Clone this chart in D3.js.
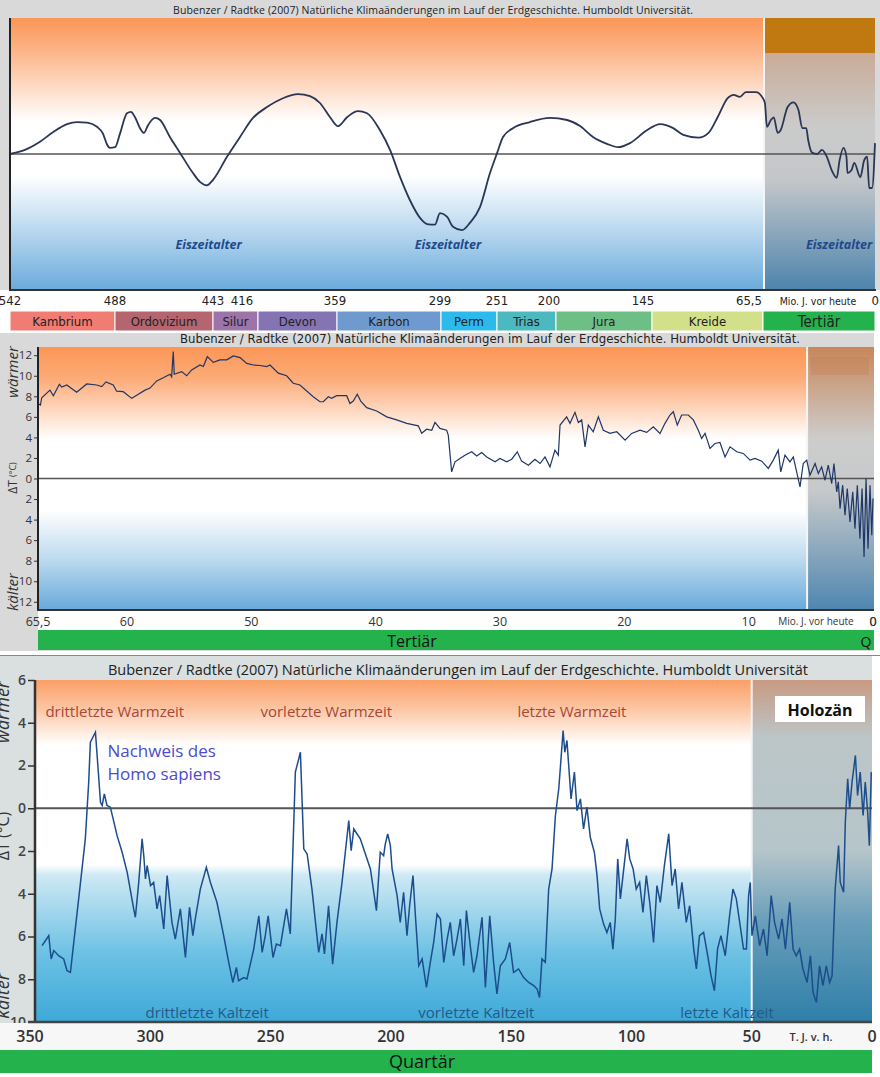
<!DOCTYPE html>
<html><head><meta charset="utf-8">
<script src="https://cdn.jsdelivr.net/npm/d3@7"></script>
<style>body{margin:0;background:#fff}svg{display:block}</style>
</head><body><svg id="c" width="880" height="1077"></svg>
<script>
// ---------------- DATA ----------------
const titleText = "Bubenzer / Radtke (2007) Natürliche Klimaänderungen im Lauf der Erdgeschichte. Humboldt Universität";
const eraNames = ["Kambrium","Ordovizium","Silur","Devon","Karbon","Perm","Trias","Jura","Kreide","Tertiär"];
const eraColors = ["#f07c74","#b4656f","#9d74aa","#8474b4","#6f9ad0","#2cb9ec","#4cb8c0","#6ebf86","#d2e08a","#23b24c"];
const eraBounds = [542,488,443,416,359,299,251,200,145,65.5,0];
const eraTickLabels = ["542","488","443","416","359","299","251","200","145","65,5","0"];
const iceAgeMa = [445,293,21];

const phanMa = [542,534.3,526.6,519.9,512.7,507.5,502.4,497.3,494.2,492.1,490.6,488,485.7,482.5,480.7,478.8,476.5,474.7,472.9,469.6,467.3,462.8,458.2,452.2,449,445.8,443,434.6,426.8,419,409.5,398,387.1,378.5,371.3,364,358.4,353.2,346.9,341.7,334.2,328.4,322.6,316.9,311.1,307.1,302.5,299.6,293.9,288.7,281,274.1,265.6,257,251,245.8,237.2,222.5,205.2,193.7,186.2,178.8,170.8,164.5,157.6,147.9,139.2,129.8,122.6,111.8,104.5,98,90.8,86.5,82.1,77.8,70.6,66.2,64.4,63.2,60.9,59.2,56.9,55.2,51.1,47.7,44.8,42.5,40.2,39.1,36.8,33.9,31,28.2,25.3,22.4,20.7,18.4,16.7,16.1,13.8,12.1,8.6,6.3,4.6,3.4,1.7,0];
const phanT = [0,0.3,0.9,1.6,2.2,2.35,2.3,2.0,1.5,0.7,0.45,0.5,1.5,3.0,3.1,2.7,1.9,1.55,2.1,2.65,2.5,1.25,0.1,-1.4,-2.05,-2.3,-1.9,-0.2,1.25,2.65,3.45,4.1,4.4,4.25,3.75,2.7,2.05,2.7,3.15,3.0,1.75,0.3,-1.7,-3.4,-4.7,-5.15,-5.2,-4.35,-4.6,-5.35,-5.6,-5.05,-3.9,-1.4,0.05,1.25,1.9,2.35,2.65,2.5,2.05,1.25,0.75,0.5,0.8,1.75,2.2,1.9,1.4,1.2,1.55,2.7,4.1,4.35,4.2,4.55,4.55,4.2,3.75,2.0,2.5,2.7,1.55,1.75,3.45,3.8,3.25,1.9,1.9,1.05,0.1,0.0,0.3,-0.2,-1.2,-1.75,-0.45,0.45,-0.2,-1.4,-1.2,-0.65,-1.7,-0.45,-0.2,-2.5,-2.5,0.8];

const tertMa = [65.5,65.35,65.27,64.76,64.55,64.18,64.03,63.72,63.11,62.49,61.87,61.56,61.3,60.85,60.64,60.23,59.62,59.22,58.55,58.15,57.61,57.08,56.54,56.41,56.28,56.2,55.6,55.2,54.8,54.13,53.86,53.54,53.06,52.52,51.98,51.45,50.91,50.37,49.84,49.3,48.76,48.5,47.83,47.16,46.63,46.09,45.02,44.48,44.21,43.81,43.54,43.14,42.33,42.07,41.8,41.48,41.2,40.72,39.92,39.11,38.31,37.5,36.57,36.3,35.9,35.49,35.23,34.83,34.29,34.16,33.89,33.62,33.22,32.82,32.28,31.87,31.47,31.07,30.4,30.0,29.46,29.06,28.61,28.26,27.72,27.19,26.78,26.38,25.98,25.58,25.31,25.17,24.64,24.37,23.97,23.7,23.43,23.16,22.9,22.5,22.09,21.69,21.15,20.61,19.94,19.41,18.74,18.2,17.67,17.13,16.73,16.33,16.06,15.74,15.39,14.86,14.45,14.05,13.78,13.51,13.11,12.71,12.31,11.9,11.5,10.96,10.43,9.89,9.49,8.95,8.42,8.02,7.62,7.42,7.08,6.68,6.41,6.14,5.87,5.61,5.33,5.07,4.66,4.4,4.13,3.86,3.6,3.32,3.14,2.92,2.79,2.65,2.44,2.25,2.07,1.85,1.63,1.45,1.26,1.05,0.88,0.72,0.56,0.4,0.24,0.1,0];
const tertT = [7.3,7.15,7.86,8.6,8.05,9.17,8.9,9.1,8.4,9.2,9.1,8.94,9.4,9.1,8.5,8.45,7.8,8.1,8.6,8.8,9.5,9.8,10.15,9.9,12.35,10.15,10.4,10.0,10.57,11.05,10.9,11.86,11.3,11.55,11.55,11.93,11.77,11.2,11.05,11.0,10.9,11.05,10.25,10.0,9.27,9.1,7.96,7.47,7.47,7.96,7.8,8.06,8.06,7.3,7.54,8.2,7.54,6.9,6.57,6.0,5.7,5.37,5.13,4.4,4.8,4.7,5.46,4.88,4.7,4.22,0.65,1.62,1.95,2.27,2.6,2.2,2.53,2.1,1.62,1.95,1.62,1.88,2.6,1.69,1.3,1.88,1.46,2.1,1.13,2.76,2.27,5.2,6.0,5.37,6.44,5.46,5.7,3.08,5.2,4.55,6.0,4.7,4.39,4.55,3.74,4.39,4.7,4.49,5.03,4.39,5.37,6.18,6.5,5.2,6.18,6.18,5.7,4.7,3.9,4.39,2.93,3.41,3.51,2.1,3.08,2.6,2.44,1.79,1.95,1.69,0.98,1.79,2.76,0.65,2.27,1.62,2.1,0.65,-0.82,1.46,1.79,0.32,1.46,0.49,1.13,-0.17,1.3,-0.49,1.46,-1.3,-0.33,-2.93,-0.65,-3.58,-0.98,-4.23,-1.3,-4.88,-0.65,-5.85,-0.98,-7.65,0,-6.83,-0.65,-5.53,-1.95];
const tertTicks = [65.5,60,50,40,30,20,10,0];
const tertTickLabels = ["65,5","60","50","40","30","20","10","0"];
const tertYTicks = [-12,-10,-8,-6,-4,-2,0,2,4,6,8,10,12];

const quatKa = [345,343.6,342.2,341.2,340.1,338.1,336,334.6,333.2,329,327,325.6,324.9,322.8,321.8,320.7,320,319.1,318,316.6,313.8,311.7,309.6,306.9,306.2,304.8,303.4,302.7,302,301.3,299.9,298.6,297.2,296.1,294.4,293,291,289.6,287.5,285.4,283.7,282.3,281.3,279.2,276.7,275,272.3,269.5,267.4,265.7,264.2,263.3,261.2,259.8,257,254.9,253.5,252.2,251,249,247.6,245.9,243.4,241.8,239.7,237.6,236.2,234.8,232.8,230,228.6,227.6,225.9,224.2,222.4,220.3,217.5,216.5,215.4,212.7,208.5,206,204.4,203,202.3,201.3,200.2,199.5,197.4,196.1,194.7,193.3,192.2,190.8,189.8,188.4,187,185.2,183.6,182.2,180.8,179.4,178,176.6,175.3,173.9,172.5,171.1,169.7,168.6,167,165.6,164.2,162.1,160.7,158.9,157.3,155.9,154.5,152.4,150.6,149,146.9,144.8,142.7,140.6,139.2,138.2,137.2,135.8,134.4,133,131.6,130.2,128.4,127.7,126.8,125.1,123.7,122.6,121.2,119.9,118.5,117.1,115.4,114.3,113.2,111.6,110.2,108.8,107.7,106.7,105.7,104.6,103.5,101.8,100.7,99.3,98,96.6,95.2,93.8,92.4,90.8,89.4,88,86.3,84.5,83.1,81.8,80.4,79,77.2,75.8,74.1,73,71.7,70,68.3,66.9,65.5,64.2,62.8,61,59.2,57.8,56.4,55,53.4,52.2,51.3,50.6,49.9,48.5,46.7,45.1,43.6,41.9,40.5,38.8,37.4,36,34.2,32.8,31.5,30.1,28.7,27,25.6,24.5,23.1,21.8,20.4,19,17.6,16.6,15.3,13.9,13.2,11.8,11.1,10.1,9.3,8.3,6.9,6,4.9,3.7,2.8,1.8,1.1,0.3];
const quatT = [-6.43,-6.2,-5.96,-7.05,-6.66,-6.9,-7.05,-7.6,-7.68,-3.47,-1.43,1.22,3.09,3.56,2.0,0.28,0.13,0.67,0.13,0.05,-1.28,-2.06,-3.0,-4.71,-5.1,-3.47,-1.43,-2.22,-3.31,-2.68,-3.62,-3.47,-4.71,-4.09,-5.65,-3.15,-5.34,-6.12,-4.71,-6.98,-4.64,-5.96,-5.18,-3.78,-2.76,-3.47,-4.4,-5.96,-7.21,-8.15,-7.45,-8.07,-7.92,-7.99,-6.59,-5.03,-6.74,-5.96,-5.03,-6.98,-6.35,-6.43,-4.71,-5.88,1.69,2.62,-1.9,-2.14,-3.78,-6.74,-5.88,-6.82,-4.56,-7.29,-5.34,-3.47,-0.58,-1.98,-0.97,-1.43,-2.84,-4.79,-2.06,-2.22,-1.67,-1.2,-1.75,-2.84,-4.09,-5.34,-3.93,-5.96,-4.56,-3.15,-5.03,-7.37,-7.05,-8.38,-7.21,-6.28,-4.95,-5.18,-7.21,-6.12,-5.34,-6.9,-6.12,-5.18,-7.37,-4.79,-6.43,-7.68,-6.9,-5.1,-8.38,-5.03,-7.21,-8.69,-7.37,-7.05,-6.28,-7.68,-7.52,-7.92,-8.15,-8.3,-8.46,-8.85,-7.05,-7.21,-3.78,-2.84,-0.34,0.91,3.64,2.62,3.17,0.44,1.69,-0.11,0.44,-0.97,0.05,-1.36,-2.06,-3.15,-4.71,-5.41,-5.81,-5.34,-6.59,-5.18,-2.37,-4.24,-3.15,-1.43,-2.37,-2.84,-3.78,-3.47,-4.87,-3.15,-4.4,-6.28,-3.62,-4.4,-2.68,-1.2,-3.62,-2.84,-4.71,-3.47,-5.34,-4.56,-6.59,-7.52,-5.96,-5.81,-6.9,-7.84,-8.54,-6.59,-5.96,-6.9,-5.03,-3.78,-4.24,-5.34,-6.59,-6.59,-4.09,-3.47,-5.96,-5.03,-6.43,-5.65,-6.9,-4.09,-5.34,-6.12,-5.18,-6.59,-4.4,-6.59,-6.9,-6.59,-7.52,-8.15,-6.9,-8.62,-9.09,-7.37,-8.3,-7.37,-8.15,-7.84,-3.78,-1.75,-3.47,-3.93,-0.66,1.38,-0.03,1.22,2.47,0.6,1.69,-0.34,1.22,-0.19,-1.75,1.69];
const quatTicks = [350,300,250,200,150,100,50,0];
const quatYTicks = [-10,-8,-6,-4,-2,0,2,4,6];
const warmLabels = ["drittletzte Warmzeit","vorletzte Warmzeit","letzte Warmzeit"];
const warmKa = [343.6,254.2,147.4];
const coldLabels = ["drittletzte Kaltzeit","vorletzte Kaltzeit","letzte Kaltzeit"];
const coldKa = [302,188.6,79.7];

// ---------------- LAYOUT ----------------
const svg = d3.select("#c");
const defs = svg.append("defs");
const NARROW = "'Liberation Sans Narrow','DejaVu Sans Condensed',sans-serif";
const SANS = "'Open Sans','Noto Sans',sans-serif";
function vgrad(id, stops){
  const g = defs.append("linearGradient").attr("id",id).attr("x1",0).attr("y1",0).attr("x2",0).attr("y2",1);
  stops.forEach(([o,c])=>g.append("stop").attr("offset",o).attr("stop-color",c));
}
vgrad("g1",[[0,"#fb9656"],[0.12,"#fcb487"],[0.38,"#ffffff"],[0.58,"#ffffff"],[0.75,"#c4def2"],[1,"#6aaadb"]]);
vgrad("g1b",[[0,"#c89c80"],[0.4,"#cbcbcb"],[0.6,"#c3c6c9"],[1,"#4d84ad"]]);
vgrad("g2",[[0,"#fb9656"],[0.12,"#fcab78"],[0.35,"#ffffff"],[0.62,"#ffffff"],[0.8,"#c0dcf0"],[1,"#68a9da"]]);
vgrad("g2b",[[0,"#c8875a"],[0.35,"#cdcdcd"],[0.55,"#c6c8ca"],[1,"#4e86b0"]]);
vgrad("g3",[[0,"#fa9f67"],[0.08,"#fcc4a0"],[0.19,"#ffffff"],[0.54,"#ffffff"],[0.57,"#cfe9f4"],[0.8,"#6cc1e4"],[1,"#3ea9d8"]]);
vgrad("g3b",[[0,"#c99a82"],[0.17,"#bcc6c8"],[0.5,"#b5c5ca"],[0.7,"#6b9fbb"],[1,"#2e7fa8"]]);

// ============ PANEL 1 ============
const x1 = d3.scaleLinear().domain(eraBounds).range([10,115,213,258,337,441,497,556,652,763,875]);
const y1 = d3.scaleLinear().domain([-10,10]).range([290,18]);
svg.append("rect").attr("x",0).attr("y",0).attr("width",880).attr("height",290).attr("fill","#d9d9d9");
svg.append("rect").attr("x",x1(542)).attr("y",18).attr("width",x1(65.5)-x1(542)).attr("height",272).attr("fill","url(#g1)");
svg.append("rect").attr("x",x1(65.5)).attr("y",18).attr("width",x1(0)-x1(65.5)).attr("height",272).attr("fill","url(#g1b)");
svg.append("rect").attr("x",x1(65.5)).attr("y",18).attr("width",x1(0)-x1(65.5)).attr("height",35).attr("fill","#c07810");
svg.append("line").attr("x1",x1(65.5)+1).attr("x2",x1(65.5)+1).attr("y1",18).attr("y2",290).attr("stroke","#f4f4f4").attr("stroke-width",2);
svg.append("text").attr("x",433).attr("y",14).attr("text-anchor","middle").attr("font-family",SANS).attr("font-size",10.5).attr("fill","#222").attr("textLength",520).text(titleText+".");
svg.append("line").attr("x1",10).attr("x2",875).attr("y1",y1(0)).attr("y2",y1(0)).attr("stroke","#555").attr("stroke-width",1.6);
svg.append("path").datum(d3.zip(phanMa,phanT)).attr("fill","none").attr("stroke","#2a3656").attr("stroke-width",1.8)
  .attr("d",d3.line().x(d=>x1(d[0])).y(d=>y1(d[1])).curve(d3.curveMonotoneX));
svg.append("line").attr("x1",10).attr("x2",10).attr("y1",18).attr("y2",291).attr("stroke","#222").attr("stroke-width",2);
svg.append("line").attr("x1",9).attr("x2",876).attr("y1",290).attr("y2",290).attr("stroke","#333").attr("stroke-width",2);
iceAgeMa.forEach(m=>{
  svg.append("text").attr("x",x1(m)).attr("y",249).attr("text-anchor","middle").attr("font-family",SANS)
    .attr("font-style","italic").attr("font-weight","bold").attr("font-size",12.5).attr("fill","#1f4a8a").text("Eiszeitalter");
});
const tickDx = [0,0,0,-16,-2,-1,0,-7,-9,-14,0];
const tickAnchor = ["middle","middle","middle","middle","middle","middle","middle","middle","middle","middle","end"];
eraBounds.forEach((b,i)=>{
  svg.append("text").attr("x",x1(b)+tickDx[i]+(i===10?4:0)).attr("y",305).attr("text-anchor",tickAnchor[i])
    .attr("font-family",NARROW).attr("font-size",13).attr("fill","#222").text(eraTickLabels[i]);
});
svg.append("text").attr("x",818).attr("y",305).attr("text-anchor","middle").attr("font-family",NARROW).attr("font-size",10.5).attr("fill","#222").text("Mio. J. vor heute");
eraNames.forEach((n,i)=>{
  const a = x1(eraBounds[i]), b = x1(eraBounds[i+1]);
  svg.append("rect").attr("x",a).attr("y",311).attr("width",b-a).attr("height",20).attr("fill",eraColors[i]).attr("stroke","#fff").attr("stroke-width",1);
  svg.append("text").attr("x",(a+b)/2).attr("y",i===9?327:326).attr("text-anchor","middle").attr("font-family",NARROW)
    .attr("font-size",i===9?15:13).attr("fill","#222").text(n);
});

// ============ PANEL 2 ============
const x2 = d3.scaleLinear().domain([65.5,60,0]).range([38,127,873]);
const y2 = d3.scaleLinear().domain([-12.8,12.8]).range([610,347]);
svg.append("rect").attr("x",0).attr("y",333).attr("width",874).attr("height",318).attr("fill","#d9d9d9");
svg.append("rect").attr("x",38).attr("y",611).attr("width",836).attr("height",20).attr("fill","#fff");
svg.append("rect").attr("x",38).attr("y",347).attr("width",x2(5.3)-38).attr("height",263).attr("fill","url(#g2)");
svg.append("rect").attr("x",x2(5.3)).attr("y",347).attr("width",874-x2(5.3)).attr("height",263).attr("fill","url(#g2b)");
svg.append("rect").attr("x",x2(5.0)).attr("y",357).attr("width",58).attr("height",18).attr("fill","#c47c4c").attr("opacity",0.3);
svg.append("line").attr("x1",x2(5.3)).attr("x2",x2(5.3)).attr("y1",347).attr("y2",610).attr("stroke","#f4f4f4").attr("stroke-width",2);
svg.append("text").attr("x",490).attr("y",343).attr("text-anchor","middle").attr("font-family",NARROW).attr("font-size",13).attr("fill","#222").attr("textLength",620).text(titleText+".");
svg.append("line").attr("x1",38).attr("x2",874).attr("y1",y2(0)).attr("y2",y2(0)).attr("stroke","#555").attr("stroke-width",1.5);
svg.append("path").datum(d3.zip(tertMa,tertT)).attr("fill","none").attr("stroke","#1f3766").attr("stroke-width",1.2)
  .attr("d",d3.line().x(d=>x2(d[0])).y(d=>y2(d[1])));
const ax2 = svg.append("g").attr("transform","translate(38,0)")
  .call(d3.axisLeft(y2).tickValues(tertYTicks).tickFormat(d=>Math.abs(d)).tickSize(4).tickPadding(2));
ax2.select(".domain").remove();
ax2.selectAll("text").attr("font-family",SANS).attr("font-size",11.5).attr("fill","#333");
ax2.selectAll("line").attr("stroke","#333");
svg.append("line").attr("x1",38).attr("x2",38).attr("y1",347).attr("y2",611).attr("stroke","#222").attr("stroke-width",2);
svg.append("line").attr("x1",37).attr("x2",874).attr("y1",610).attr("y2",610).attr("stroke","#333").attr("stroke-width",2);
tertTicks.forEach((t,i)=>{
  svg.append("text").attr("x",x2(t)).attr("y",626).attr("text-anchor","middle").attr("font-family",SANS)
    .attr("font-size",12.5).attr("fill","#333").text(tertTickLabels[i]);
});
svg.append("rect").attr("x",770).attr("y",613).attr("width",96).attr("height",16).attr("fill","#fff");
svg.append("text").attr("x",816).attr("y",625).attr("text-anchor","middle").attr("font-family",SANS).attr("font-size",10).attr("fill","#333").text("Mio. J. vor heute");
svg.append("text").attr("x",x2(0)).attr("y",626).attr("text-anchor","middle").attr("font-family",SANS).attr("font-size",12.5).attr("fill","#333").text("0");
function vlabel(x,y,txt,size,italic){
  svg.append("text").attr("transform",`translate(${x},${y}) rotate(-90)`).attr("text-anchor","middle").attr("dominant-baseline","central")
    .attr("font-family",SANS).attr("font-style",italic?"italic":"normal").attr("font-size",size).attr("fill","#333").text(txt);
}
vlabel(12,372,"wärmer",15,true);
vlabel(12,592,"kälter",15,true);
svg.append("text").attr("transform","translate(12,478) rotate(-90)").attr("text-anchor","middle").attr("dominant-baseline","central")
  .attr("font-family",SANS).attr("fill","#333").attr("font-size",12)
  .call(t=>{t.append("tspan").text("ΔT "); t.append("tspan").attr("font-size",9).text("(°C)");});
svg.append("rect").attr("x",38).attr("y",630).attr("width",836).attr("height",20).attr("fill","#23b24c");
svg.append("text").attr("x",412).attr("y",647).attr("text-anchor","middle").attr("font-family",SANS).attr("font-size",16).attr("fill","#111").text("Tertiär");
svg.append("text").attr("x",866).attr("y",647).attr("text-anchor","middle").attr("font-family",SANS).attr("font-size",14).attr("fill","#111").text("Q");

// ============ PANEL 3 ============
const x3 = d3.scaleLinear().domain([350,0]).range([30,872]);
const y3 = d3.scaleLinear().domain([-10,6]).range([1022,680]);
svg.append("rect").attr("x",0).attr("y",655).attr("width",872).attr("height",395).attr("fill","#dadfe0");
svg.append("line").attr("x1",0).attr("x2",880).attr("y1",655.5).attr("y2",655.5).attr("stroke","#888").attr("stroke-width",1);
svg.append("rect").attr("x",35).attr("y",680).attr("width",x3(50)-35).attr("height",342).attr("fill","url(#g3)");
svg.append("rect").attr("x",x3(50)).attr("y",680).attr("width",x3(0)-x3(50)).attr("height",342).attr("fill","url(#g3b)");
svg.append("line").attr("x1",x3(50)).attr("x2",x3(50)).attr("y1",680).attr("y2",1022).attr("stroke","#f4f4f4").attr("stroke-width",2);
svg.append("text").attr("x",458).attr("y",675).attr("text-anchor","middle").attr("font-family",SANS).attr("font-size",14.5).attr("fill","#222").attr("textLength",700).text(titleText);
svg.append("line").attr("x1",35).attr("x2",872).attr("y1",y3(0)).attr("y2",y3(0)).attr("stroke","#555").attr("stroke-width",2);
svg.append("rect").attr("x",775).attr("y",696).attr("width",90).attr("height",26).attr("fill","#fff");
svg.append("text").attr("x",820).attr("y",716).attr("text-anchor","middle").attr("font-family",SANS).attr("font-weight","bold").attr("font-size",16).attr("fill","#111").text("Holozän");
warmLabels.forEach((l,i)=>{
  svg.append("text").attr("x",x3(warmKa[i])).attr("y",y3(4.25)).attr("font-family",SANS).attr("font-size",15).attr("fill","#a9473a").text(l);
});
coldLabels.forEach((l,i)=>{
  svg.append("text").attr("x",x3(coldKa[i])).attr("y",y3(-9.79)).attr("font-family",SANS).attr("font-size",15).attr("fill","#245a88").text(l);
});
svg.append("text").attr("x",x3(317.8)).attr("y",y3(2.39)).attr("font-family",SANS).attr("font-size",17).attr("fill","#4b4bcc").text("Nachweis des");
svg.append("text").attr("x",x3(317.8)).attr("y",y3(1.34)).attr("font-family",SANS).attr("font-size",17).attr("fill","#4b4bcc").text("Homo sapiens");
svg.append("path").datum(d3.zip(quatKa,quatT)).attr("fill","none").attr("stroke","#1d4d8c").attr("stroke-width",1.5)
  .attr("d",d3.line().x(d=>x3(d[0])).y(d=>y3(d[1])));
const ax3 = svg.append("g").attr("transform","translate(35,0)")
  .call(d3.axisLeft(y3).tickValues(quatYTicks).tickFormat(d=>Math.abs(d)).tickSize(7).tickPadding(2));
ax3.select(".domain").remove();
ax3.selectAll("text").attr("font-family",SANS).attr("font-size",14).attr("font-weight",600).attr("fill","#444");
ax3.selectAll("line").attr("stroke","#333").attr("stroke-width",1.5);
function vlabel3(x,y,txt,size,italic){
  svg.append("text").attr("transform",`translate(${x},${y}) rotate(-90)`).attr("text-anchor","middle").attr("dominant-baseline","central")
    .attr("font-family",SANS).attr("font-style",italic?"italic":"normal").attr("font-size",size).attr("fill","#333").text(txt);
}
vlabel3(2,712,"wärmer",18,true);
vlabel3(2,996,"kälter",18,true);
svg.append("text").attr("transform","translate(3,836) rotate(-90)").attr("text-anchor","middle").attr("dominant-baseline","central")
  .attr("font-family",SANS).attr("fill","#333").attr("font-size",16).text("ΔT (°C)");
// label row (covers lower half of bottom tick label as in the reference)
svg.append("rect").attr("x",0).attr("y",1023).attr("width",872).attr("height",27).attr("fill","#f7f7f7");
svg.append("line").attr("x1",35).attr("x2",35).attr("y1",680).attr("y2",1023).attr("stroke","#333").attr("stroke-width",2.5);
svg.append("line").attr("x1",28).attr("x2",872).attr("y1",1022).attr("y2",1022).attr("stroke","#444").attr("stroke-width",2.5);
quatTicks.forEach(t=>{
  svg.append("text").attr("x",x3(t)).attr("y",1042).attr("text-anchor","middle").attr("font-family",SANS)
    .attr("font-size",16).attr("font-weight",600).attr("fill","#333").text(t);
});
svg.append("rect").attr("x",780).attr("y",1026).attr("width",62).attr("height",20).attr("fill","#f7f7f7");
svg.append("text").attr("x",811).attr("y",1041).attr("text-anchor","middle").attr("font-family",SANS).attr("font-size",11).attr("font-weight",600).attr("fill","#333").text("T. J. v. h.");
svg.append("rect").attr("x",0).attr("y",1050).attr("width",872).attr("height",23).attr("fill","#23b24c");
svg.append("text").attr("x",422).attr("y",1068).attr("text-anchor","middle").attr("font-family",SANS).attr("font-size",18).attr("fill","#111").text("Quartär");
</script></body></html>
